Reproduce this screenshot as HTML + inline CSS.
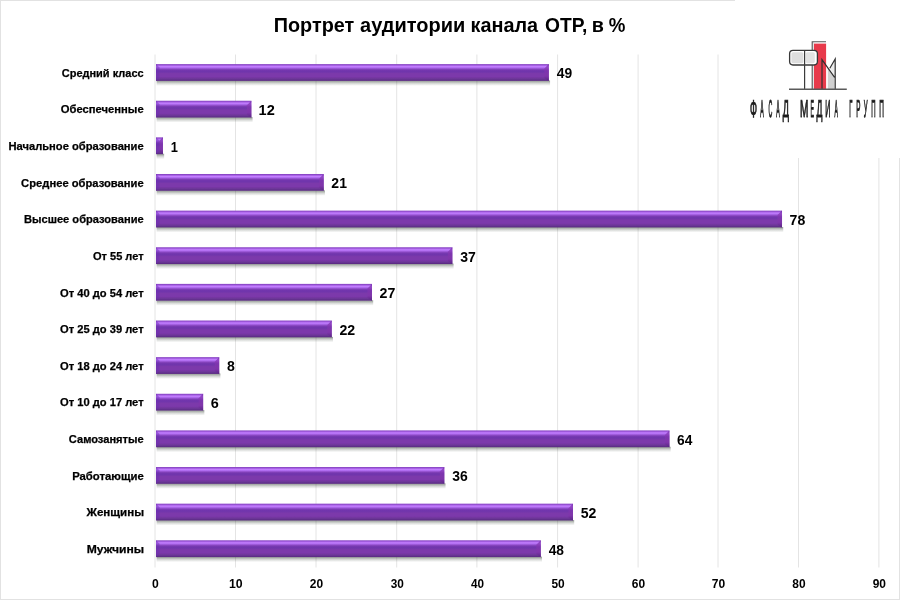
<!DOCTYPE html>
<html lang="ru"><head><meta charset="utf-8"><title>Портрет аудитории канала ОТР</title>
<style>
html,body{margin:0;padding:0;background:#fff;}
body{width:900px;height:600px;overflow:hidden;font-family:"Liberation Sans",sans-serif;}
svg{display:block;}
text{font-family:"Liberation Sans",sans-serif;}
.yl{font-weight:bold;font-size:11.2px;fill:#000;stroke:#000;stroke-width:0.25px;}
.vl{font-weight:bold;font-size:15.3px;fill:#000;}
.xl{font-weight:bold;font-size:12.1px;fill:#000;}
.tt{font-weight:bold;font-size:20.9px;fill:#000;}
.lg{font-size:24.3px;fill:#1c1c1c;stroke:#1c1c1c;stroke-width:1.05px;text-rendering:geometricPrecision;}
.lg text{vector-effect:non-scaling-stroke;}
</style></head><body>
<svg width="900" height="600" viewBox="0 0 900 600">
<defs>
<linearGradient id="bg" x1="0" y1="0" x2="0" y2="1">
<stop offset="0.030" stop-color="#8a46c6"/>
<stop offset="0.089" stop-color="#a862e6"/>
<stop offset="0.149" stop-color="#c47fff"/>
<stop offset="0.208" stop-color="#b06cf0"/>
<stop offset="0.268" stop-color="#9652d0"/>
<stop offset="0.327" stop-color="#7e3eb6"/>
<stop offset="0.387" stop-color="#7236ae"/>
<stop offset="0.446" stop-color="#7035ac"/>
<stop offset="0.506" stop-color="#7537ab"/>
<stop offset="0.565" stop-color="#7c39ab"/>
<stop offset="0.744" stop-color="#7c39ab"/>
<stop offset="0.804" stop-color="#7636a2"/>
<stop offset="0.863" stop-color="#6e389a"/>
<stop offset="0.923" stop-color="#653290"/>
<stop offset="0.982" stop-color="#5a2a82"/>
</linearGradient>
<linearGradient id="bv" x1="0" y1="0" x2="0" y2="1">
<stop offset="0" stop-color="#742ca6" stop-opacity="0.8"/>
<stop offset="0.3" stop-color="#8636b2" stop-opacity="0.65"/>
<stop offset="0.7" stop-color="#8034aa" stop-opacity="0.65"/>
<stop offset="1" stop-color="#562282" stop-opacity="0.9"/>
</linearGradient>
<linearGradient id="sh" x1="0" y1="0" x2="0" y2="1">
<stop offset="0" stop-color="#1c2a1c" stop-opacity="0.5"/>
<stop offset="0.3" stop-color="#1c2a1c" stop-opacity="0.32"/>
<stop offset="0.6" stop-color="#1c2a1c" stop-opacity="0.15"/>
<stop offset="1" stop-color="#1c2a1c" stop-opacity="0"/>
</linearGradient>
</defs>
<rect x="0" y="0" width="900" height="600" fill="#fff"/>
<rect x="0.5" y="0.5" width="899" height="599" fill="none" stroke="#e2e2e2" stroke-width="1"/>

<line x1="155.00" y1="54.5" x2="155.00" y2="567.5" stroke="#e4e4e4" stroke-width="1"/>
<line x1="235.50" y1="54.5" x2="235.50" y2="567.5" stroke="#e4e4e4" stroke-width="1"/>
<line x1="316.00" y1="54.5" x2="316.00" y2="567.5" stroke="#e4e4e4" stroke-width="1"/>
<line x1="396.70" y1="54.5" x2="396.70" y2="567.5" stroke="#e4e4e4" stroke-width="1"/>
<line x1="476.90" y1="54.5" x2="476.90" y2="567.5" stroke="#e4e4e4" stroke-width="1"/>
<line x1="557.60" y1="54.5" x2="557.60" y2="567.5" stroke="#e4e4e4" stroke-width="1"/>
<line x1="638.10" y1="54.5" x2="638.10" y2="567.5" stroke="#e4e4e4" stroke-width="1"/>
<line x1="718.00" y1="54.5" x2="718.00" y2="567.5" stroke="#e4e4e4" stroke-width="1"/>
<line x1="798.50" y1="54.5" x2="798.50" y2="567.5" stroke="#e4e4e4" stroke-width="1"/>
<line x1="878.90" y1="54.5" x2="878.90" y2="567.5" stroke="#e4e4e4" stroke-width="1"/>
<rect x="735" y="0" width="165" height="158" fill="#fff"/>
<g class="tt">
<text x="273.79" y="32" textLength="80.45" lengthAdjust="spacingAndGlyphs">Портрет</text>
<text x="360.12" y="32" textLength="105.15" lengthAdjust="spacingAndGlyphs">аудитории</text>
<text x="470.53" y="32" textLength="67.63" lengthAdjust="spacingAndGlyphs">канала</text>
<text x="545.11" y="32" textLength="42.18" lengthAdjust="spacingAndGlyphs">ОТР,</text>
<text x="591.64" y="32" textLength="12.13" lengthAdjust="spacingAndGlyphs">в</text>
<text x="608.85" y="32" textLength="16.64" lengthAdjust="spacingAndGlyphs">%</text>
</g>
<rect x="156.60" y="80.50" width="393.46" height="5.4" fill="url(#sh)"/>
<rect x="156.00" y="64.10" width="392.86" height="16.8" fill="url(#bg)"/>
<polygon points="548.86,64.10 544.36,68.60 544.36,77.90 548.86,80.90" fill="url(#bv)"/>
<polygon points="156.00,64.10 159.50,67.60 159.50,77.90 156.00,80.90" fill="#6a2cb4" fill-opacity="0.45"/>
<text class="yl" x="61.75" y="76.7" textLength="81.87" lengthAdjust="spacingAndGlyphs">Средний класс</text>
<text class="vl" x="556.75" y="78.4" textLength="15.41" lengthAdjust="spacingAndGlyphs">49</text>
<rect x="156.60" y="117.13" width="95.98" height="5.4" fill="url(#sh)"/>
<rect x="156.00" y="100.73" width="95.38" height="16.8" fill="url(#bg)"/>
<polygon points="251.38,100.73 246.88,105.23 246.88,114.53 251.38,117.53" fill="url(#bv)"/>
<polygon points="156.00,100.73 159.50,104.23 159.50,114.53 156.00,117.53" fill="#6a2cb4" fill-opacity="0.45"/>
<text class="yl" x="60.84" y="113.3" textLength="82.84" lengthAdjust="spacingAndGlyphs">Обеспеченные</text>
<text class="vl" x="258.58" y="115.0" textLength="16.17" lengthAdjust="spacingAndGlyphs">12</text>
<rect x="156.60" y="153.76" width="7.54" height="5.4" fill="url(#sh)"/>
<rect x="156.00" y="137.36" width="6.94" height="16.8" fill="url(#bg)"/>
<polygon points="162.94,137.36 159.47,140.83 159.47,151.16 162.94,154.16" fill="url(#bv)"/>
<polygon points="156.00,137.36 159.47,140.83 159.47,151.16 156.00,154.16" fill="#6a2cb4" fill-opacity="0.45"/>
<text class="yl" x="8.46" y="150.0" textLength="135.22" lengthAdjust="spacingAndGlyphs">Начальное образование</text>
<text class="vl" x="170.74" y="151.7" textLength="7.15" lengthAdjust="spacingAndGlyphs">1</text>
<rect x="156.60" y="190.39" width="168.34" height="5.4" fill="url(#sh)"/>
<rect x="156.00" y="173.99" width="167.74" height="16.8" fill="url(#bg)"/>
<polygon points="323.74,173.99 319.24,178.49 319.24,187.79 323.74,190.79" fill="url(#bv)"/>
<polygon points="156.00,173.99 159.50,177.49 159.50,187.79 156.00,190.79" fill="#6a2cb4" fill-opacity="0.45"/>
<text class="yl" x="21.14" y="186.6" textLength="122.54" lengthAdjust="spacingAndGlyphs">Среднее образование</text>
<text class="vl" x="331.36" y="188.3" textLength="15.56" lengthAdjust="spacingAndGlyphs">21</text>
<rect x="156.60" y="227.02" width="626.62" height="5.4" fill="url(#sh)"/>
<rect x="156.00" y="210.62" width="626.02" height="16.8" fill="url(#bg)"/>
<polygon points="782.02,210.62 777.52,215.12 777.52,224.42 782.02,227.42" fill="url(#bv)"/>
<polygon points="156.00,210.62 159.50,214.12 159.50,224.42 156.00,227.42" fill="#6a2cb4" fill-opacity="0.45"/>
<text class="yl" x="23.97" y="223.2" textLength="119.71" lengthAdjust="spacingAndGlyphs">Высшее образование</text>
<text class="vl" x="789.53" y="224.9" textLength="15.72" lengthAdjust="spacingAndGlyphs">78</text>
<rect x="156.60" y="263.65" width="296.98" height="5.4" fill="url(#sh)"/>
<rect x="156.00" y="247.25" width="296.38" height="16.8" fill="url(#bg)"/>
<polygon points="452.38,247.25 447.88,251.75 447.88,261.05 452.38,264.05" fill="url(#bv)"/>
<polygon points="156.00,247.25 159.50,250.75 159.50,261.05 156.00,264.05" fill="#6a2cb4" fill-opacity="0.45"/>
<text class="yl" x="93.05" y="259.9" textLength="50.55" lengthAdjust="spacingAndGlyphs">От 55 лет</text>
<text class="vl" x="460.17" y="261.6" textLength="15.62" lengthAdjust="spacingAndGlyphs">37</text>
<rect x="156.60" y="300.28" width="216.58" height="5.4" fill="url(#sh)"/>
<rect x="156.00" y="283.88" width="215.98" height="16.8" fill="url(#bg)"/>
<polygon points="371.98,283.88 367.48,288.38 367.48,297.68 371.98,300.68" fill="url(#bv)"/>
<polygon points="156.00,283.88 159.50,287.38 159.50,297.68 156.00,300.68" fill="#6a2cb4" fill-opacity="0.45"/>
<text class="yl" x="60.04" y="296.5" textLength="83.57" lengthAdjust="spacingAndGlyphs">От 40 до 54 лет</text>
<text class="vl" x="379.60" y="298.2" textLength="15.80" lengthAdjust="spacingAndGlyphs">27</text>
<rect x="156.60" y="336.91" width="176.38" height="5.4" fill="url(#sh)"/>
<rect x="156.00" y="320.51" width="175.78" height="16.8" fill="url(#bg)"/>
<polygon points="331.78,320.51 327.28,325.01 327.28,334.31 331.78,337.31" fill="url(#bv)"/>
<polygon points="156.00,320.51 159.50,324.01 159.50,334.31 156.00,337.31" fill="#6a2cb4" fill-opacity="0.45"/>
<text class="yl" x="60.04" y="333.1" textLength="83.57" lengthAdjust="spacingAndGlyphs">От 25 до 39 лет</text>
<text class="vl" x="339.40" y="334.8" textLength="15.74" lengthAdjust="spacingAndGlyphs">22</text>
<rect x="156.60" y="373.54" width="63.82" height="5.4" fill="url(#sh)"/>
<rect x="156.00" y="357.14" width="63.22" height="16.8" fill="url(#bg)"/>
<polygon points="219.22,357.14 214.72,361.64 214.72,370.94 219.22,373.94" fill="url(#bv)"/>
<polygon points="156.00,357.14 159.50,360.64 159.50,370.94 156.00,373.94" fill="#6a2cb4" fill-opacity="0.45"/>
<text class="yl" x="60.04" y="369.7" textLength="83.57" lengthAdjust="spacingAndGlyphs">От 18 до 24 лет</text>
<text class="vl" x="226.88" y="371.4" textLength="7.86" lengthAdjust="spacingAndGlyphs">8</text>
<rect x="156.60" y="410.17" width="47.74" height="5.4" fill="url(#sh)"/>
<rect x="156.00" y="393.77" width="47.14" height="16.8" fill="url(#bg)"/>
<polygon points="203.14,393.77 198.64,398.27 198.64,407.57 203.14,410.57" fill="url(#bv)"/>
<polygon points="156.00,393.77 159.50,397.27 159.50,407.57 156.00,410.57" fill="#6a2cb4" fill-opacity="0.45"/>
<text class="yl" x="60.04" y="406.4" textLength="83.57" lengthAdjust="spacingAndGlyphs">От 10 до 17 лет</text>
<text class="vl" x="210.72" y="408.1" textLength="8.03" lengthAdjust="spacingAndGlyphs">6</text>
<rect x="156.60" y="446.80" width="514.06" height="5.4" fill="url(#sh)"/>
<rect x="156.00" y="430.40" width="513.46" height="16.8" fill="url(#bg)"/>
<polygon points="669.46,430.40 664.96,434.90 664.96,444.20 669.46,447.20" fill="url(#bv)"/>
<polygon points="156.00,430.40 159.50,433.90 159.50,444.20 156.00,447.20" fill="#6a2cb4" fill-opacity="0.45"/>
<text class="yl" x="68.84" y="443.0" textLength="74.83" lengthAdjust="spacingAndGlyphs">Самозанятые</text>
<text class="vl" x="677.07" y="444.7" textLength="15.27" lengthAdjust="spacingAndGlyphs">64</text>
<rect x="156.60" y="483.43" width="288.94" height="5.4" fill="url(#sh)"/>
<rect x="156.00" y="467.03" width="288.34" height="16.8" fill="url(#bg)"/>
<polygon points="444.34,467.03 439.84,471.53 439.84,480.83 444.34,483.83" fill="url(#bv)"/>
<polygon points="156.00,467.03 159.50,470.53 159.50,480.83 156.00,483.83" fill="#6a2cb4" fill-opacity="0.45"/>
<text class="yl" x="72.15" y="479.6" textLength="71.53" lengthAdjust="spacingAndGlyphs">Работающие</text>
<text class="vl" x="452.13" y="481.3" textLength="15.50" lengthAdjust="spacingAndGlyphs">36</text>
<rect x="156.60" y="520.06" width="417.58" height="5.4" fill="url(#sh)"/>
<rect x="156.00" y="503.66" width="416.98" height="16.8" fill="url(#bg)"/>
<polygon points="572.98,503.66 568.48,508.16 568.48,517.46 572.98,520.46" fill="url(#bv)"/>
<polygon points="156.00,503.66 159.50,507.16 159.50,517.46 156.00,520.46" fill="#6a2cb4" fill-opacity="0.45"/>
<text class="yl" x="86.50" y="516.3" textLength="57.57" lengthAdjust="spacingAndGlyphs">Женщины</text>
<text class="vl" x="580.66" y="518.0" textLength="15.68" lengthAdjust="spacingAndGlyphs">52</text>
<rect x="156.60" y="556.69" width="385.42" height="5.4" fill="url(#sh)"/>
<rect x="156.00" y="540.29" width="384.82" height="16.8" fill="url(#bg)"/>
<polygon points="540.82,540.29 536.32,544.79 536.32,554.09 540.82,557.09" fill="url(#bv)"/>
<polygon points="156.00,540.29 159.50,543.79 159.50,554.09 156.00,557.09" fill="#6a2cb4" fill-opacity="0.45"/>
<text class="yl" x="86.80" y="552.9" textLength="57.33" lengthAdjust="spacingAndGlyphs">Мужчины</text>
<text class="vl" x="548.71" y="554.6" textLength="15.32" lengthAdjust="spacingAndGlyphs">48</text>
<text class="xl" x="152.03" y="587.8" textLength="6.76" lengthAdjust="spacingAndGlyphs">0</text>
<text class="xl" x="228.94" y="587.8" textLength="13.66" lengthAdjust="spacingAndGlyphs">10</text>
<text class="xl" x="309.79" y="587.8" textLength="13.29" lengthAdjust="spacingAndGlyphs">20</text>
<text class="xl" x="390.64" y="587.8" textLength="13.14" lengthAdjust="spacingAndGlyphs">30</text>
<text class="xl" x="470.92" y="587.8" textLength="13.05" lengthAdjust="spacingAndGlyphs">40</text>
<text class="xl" x="551.44" y="587.8" textLength="13.24" lengthAdjust="spacingAndGlyphs">50</text>
<text class="xl" x="631.87" y="587.8" textLength="13.31" lengthAdjust="spacingAndGlyphs">60</text>
<text class="xl" x="711.69" y="587.8" textLength="13.39" lengthAdjust="spacingAndGlyphs">70</text>
<text class="xl" x="792.33" y="587.8" textLength="13.25" lengthAdjust="spacingAndGlyphs">80</text>
<text class="xl" x="872.69" y="587.8" textLength="13.29" lengthAdjust="spacingAndGlyphs">90</text>
<g id="logo">
<rect x="812" y="42" width="2.2" height="47" fill="#e4e4e4"/>
<rect x="814" y="43.6" width="12.1" height="45.4" fill="#e83a4b"/>
<path d="M812.2 89 V41.7 H826" fill="none" stroke="#555" stroke-width="1.1"/>
<rect x="789.6" y="50.4" width="27.8" height="14.6" rx="3.4" ry="3.4" fill="#fff" stroke="#383838" stroke-width="1.3"/>
<rect x="791.4" y="52.2" width="12" height="11" rx="1.6" fill="#dedede"/>
<rect x="805.8" y="52.2" width="9" height="11" rx="1.6" fill="#e2e2e2"/>
<line x1="804.6" y1="50.4" x2="804.6" y2="89" stroke="#3c3c3c" stroke-width="1.2"/>
<polygon points="827.8,67.5 834.5,77.5 834.5,89 827.8,89" fill="#d0d0d0"/>
<polygon points="830,68.5 835,60 835,77" fill="#ececec"/>
<path d="M822 89 V59.6 L834.6 77.4 M835.2 89 V59 L829.8 68.2" fill="none" stroke="#303030" stroke-width="1.2"/>
<line x1="789" y1="89.2" x2="846.8" y2="89.2" stroke="#5a5a5a" stroke-width="1.4"/>

<g class="lg">
<g transform="translate(749.90,117.2) scale(0.3790,1)"><text x="0" y="0">Ф</text></g>
<g transform="translate(760.21,117.2) scale(0.2141,1)"><text x="0" y="0">А</text></g>
<g transform="translate(768.56,117.2) scale(0.2171,1)"><text x="0" y="0">С</text></g>
<g transform="translate(776.31,117.2) scale(0.2141,1)"><text x="0" y="0">А</text></g>
<g transform="translate(782.66,117.2) scale(0.3755,1)"><text x="0" y="0">Д</text></g>
<g transform="translate(800.00,117.2) scale(0.4152,1)"><text x="0" y="0">М</text></g>
<g transform="translate(810.39,117.2) scale(0.2160,1)"><text x="0" y="0">Е</text></g>
<g transform="translate(816.56,117.2) scale(0.3566,1)"><text x="0" y="0">Д</text></g>
<g transform="translate(825.24,117.2) scale(0.2929,1)"><text x="0" y="0">И</text></g>
<g transform="translate(834.41,117.2) scale(0.2079,1)"><text x="0" y="0">А</text></g>
<g transform="translate(849.25,117.2) scale(0.2380,1)"><text x="0" y="0">Г</text></g>
<g transform="translate(856.21,117.2) scale(0.2586,1)"><text x="0" y="0">Р</text></g>
<g transform="translate(863.77,117.2) scale(0.2442,1)"><text x="0" y="0">У</text></g>
<g transform="translate(871.24,117.2) scale(0.2466,1)"><text x="0" y="0">П</text></g>
<g transform="translate(879.20,117.2) scale(0.2687,1)"><text x="0" y="0">П</text></g>
</g>
</g>
</svg></body></html>
